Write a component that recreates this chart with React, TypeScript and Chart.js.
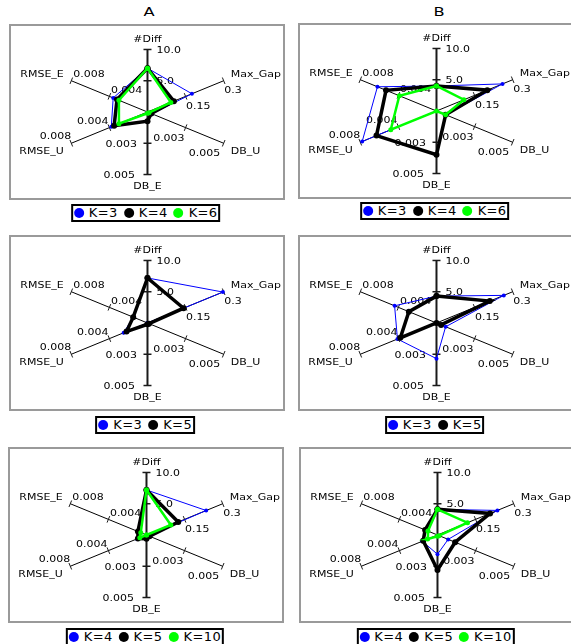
import React, { useEffect, useRef } from 'react';
import { Chart, registerables } from 'chart.js';
Chart.register(...registerables);

// ---------- data ----------
const axisNames = ['#Diff', 'Max_Gap', 'DB_U', 'DB_E', 'RMSE_U', 'RMSE_E'];
const axisMax = [10, 0.3, 0.005, 0.005, 0.008, 0.008];
const axisEndTicks = ['10.0', '0.3', '0.005', '0.005', '0.008', '0.008'];
const axisMidTicks = ['5.0', '0.15', '0.003', '0.003', '0.004', '0.004'];

// Panel A, top row
const a1K3 = [7.0, 0.175, 0.0003, 0.0007, 0.0038, 0.0036];
const a1K4 = [7.0, 0.104, 0.00025, 0.00074, 0.0035, 0.0032];
const a1K6 = [7.0, 0.092, 0.0001, 0.0001, 0.003, 0.003];
// Panel B, top row
const b1K3 = [4.0, 0.26, 0.0006, 0.0, 0.0078, 0.0062];
const b1K4 = [4.0, 0.2, 0.0006, 0.0035, 0.0063, 0.0053];
const b1K6 = [4.0, 0.108, 0.0006, 0.0, 0.0048, 0.0039];
// Panel A, middle row
const a2K3 = [7.2, 0.297, 0.0, 0.0, 0.0025, 0.0015];
const a2K5 = [7.2, 0.142, 0.0001, 0.0001, 0.0022, 0.0015];
// Panel B, middle row
const b2K3 = [4.3, 0.265, 0.0006, 0.00285, 0.0041, 0.0044];
const b2K5 = [4.3, 0.21, 0.0003, 0.0, 0.0038, 0.0029];
// Panel A, bottom row
const a3K4 = [7.2, 0.235, 0.0001, 0.0001, 0.001, 0.0009];
const a3K5 = [7.2, 0.125, 0.0002, 0.0003, 0.0009, 0.0009];
const a3K10 = [7.2, 0.096, 0.0, 0.0, 0.0007, 0.0006];
// Panel B, bottom row
const b3K4 = [4.1, 0.236, 0.0007, 0.00154, 0.0016, 0.0013];
const b3K5 = [4.1, 0.207, 0.00116, 0.0028, 0.0015, 0.0013];
const b3K10 = [4.1, 0.118, 0.0001, 0.0001, 0.00104, 0.001];

const colTitles = ['A', 'B'];

// ---------- styles ----------
const STY: Record<string, { color: string; width: number; radius: number }> = {
  blue: { color: '#0000ff', width: 1, radius: 2 },
  black: { color: '#000000', width: 3.5, radius: 3 },
  green: { color: '#00ff00', width: 2.5, radius: 2.5 },
};

type Series = { label: string; values: number[]; sty: string };
type PanelCfg = { cx: number; cy: number; legendTop: number; series: Series[] };

const panels: PanelCfg[] = [
  { cx: 147.7, cy: 112, legendTop: 204, series: [
    { label: 'K=3', values: a1K3, sty: 'blue' },
    { label: 'K=4', values: a1K4, sty: 'black' },
    { label: 'K=6', values: a1K6, sty: 'green' },
  ] },
  { cx: 436.7, cy: 110.7, legendTop: 202, series: [
    { label: 'K=3', values: b1K3, sty: 'blue' },
    { label: 'K=4', values: b1K4, sty: 'black' },
    { label: 'K=6', values: b1K6, sty: 'green' },
  ] },
  { cx: 147.2, cy: 323.3, legendTop: 416, series: [
    { label: 'K=3', values: a2K3, sty: 'blue' },
    { label: 'K=5', values: a2K5, sty: 'black' },
  ] },
  { cx: 436.7, cy: 323, legendTop: 416, series: [
    { label: 'K=3', values: b2K3, sty: 'blue' },
    { label: 'K=5', values: b2K5, sty: 'black' },
  ] },
  { cx: 146.9, cy: 535, legendTop: 628, series: [
    { label: 'K=4', values: a3K4, sty: 'blue' },
    { label: 'K=5', values: a3K5, sty: 'black' },
    { label: 'K=10', values: a3K10, sty: 'green' },
  ] },
  { cx: 437.5, cy: 534.8, legendTop: 628, series: [
    { label: 'K=4', values: b3K4, sty: 'blue' },
    { label: 'K=5', values: b3K5, sty: 'black' },
    { label: 'K=10', values: b3K10, sty: 'green' },
  ] },
];

// ---------- geometry ----------
const BOX_W = 276;
const BOX_H = 176;
const CX_OFF = 138.5;
const CY_OFF = 88;
const RX = 90.6;
const RY = 65.5;
const FONT = '"DejaVu Sans", Verdana, sans-serif';
const TEXT_SX = 1.22;

const axisAngle = (i: number) => ((90 - i * 60) * Math.PI) / 180;
const polar = (i: number, r: number) => ({ x: r * Math.cos(axisAngle(i)), y: r * Math.sin(axisAngle(i)) });

// label placements relative to the end / mid tick pixel: [dx, dy, align]
const labelLayout: any[] = [
  { name: [0, -10, 'center'], end: [9, 1, 'left'], mid: [9, 1, 'left'] },
  { name: [7, -6, 'left'], end: [0.5, 10, 'left'], mid: [0.5, 10.5, 'left'] },
  { name: [7, 8.5, 'left'], end: [-3.5, 10, 'right'], mid: [-1, 11, 'right'] },
  { name: [0, 12, 'center'], end: [-12.5, 1.5, 'right'], mid: [-10.5, 1, 'right'] },
  { name: [-7.5, 8.5, 'right'], end: [0, -7, 'right'], mid: [-1, -6, 'right'] },
  { name: [-7.5, -6.5, 'right'], end: [2, -6.5, 'left'], mid: [1.5, -6, 'left'] },
];

function drawText(ctx: CanvasRenderingContext2D, s: string, x: number, y: number, align: CanvasTextAlign) {
  ctx.save();
  ctx.translate(x, y);
  ctx.scale(TEXT_SX, 1);
  ctx.textAlign = align;
  ctx.textBaseline = 'middle';
  ctx.fillText(s, 0, 0);
  ctx.restore();
}

const axesPlugin = {
  id: 'radarAxes',
  beforeDatasetsDraw(chart: any) {
    const { ctx, scales } = chart;
    const sx = scales.x;
    const sy = scales.y;
    const px = (p: { x: number; y: number }) => ({ x: sx.getPixelForValue(p.x), y: sy.getPixelForValue(p.y) });
    const ends = axisNames.map((_, i) => px(polar(i, 1)));
    const mids = axisNames.map((_, i) => px(polar(i, 0.5)));
    ctx.save();
    ctx.strokeStyle = '#000';
    // diagonal axes
    ctx.lineWidth = 1;
    [[1, 4], [2, 5]].forEach(([a, b]) => {
      ctx.beginPath();
      ctx.moveTo(ends[a].x, ends[a].y);
      ctx.lineTo(ends[b].x, ends[b].y);
      ctx.stroke();
    });
    // vertical axis
    ctx.lineWidth = 2;
    ctx.strokeStyle = '#1a1a1a';
    ctx.beginPath();
    ctx.moveTo(ends[0].x, ends[0].y);
    ctx.lineTo(ends[3].x, ends[3].y);
    ctx.stroke();
    // ticks
    axisNames.forEach((_, i) => {
      const vertical = i === 0 || i === 3;
      const c = px({ x: 0, y: 0 });
      const dx = ends[i].x - c.x;
      const dy = ends[i].y - c.y;
      const len = Math.hypot(dx, dy);
      const nx = -dy / len;
      const ny = dx / len;
      const h = vertical ? 4 : 3.5;
      ctx.lineWidth = vertical ? 1.5 : 1;
      [ends[i], mids[i]].forEach((p) => {
        ctx.beginPath();
        ctx.moveTo(p.x - nx * h, p.y - ny * h);
        ctx.lineTo(p.x + nx * h, p.y + ny * h);
        ctx.stroke();
      });
    });
    // labels
    ctx.fillStyle = '#000';
    ctx.font = `9px ${FONT}`;
    axisNames.forEach((name, i) => {
      const L = labelLayout[i];
      drawText(ctx, name, ends[i].x + L.name[0], ends[i].y + L.name[1], L.name[2]);
      drawText(ctx, axisEndTicks[i], ends[i].x + L.end[0], ends[i].y + L.end[1], L.end[2]);
      drawText(ctx, axisMidTicks[i], mids[i].x + L.mid[0], mids[i].y + L.mid[1], L.mid[2]);
    });
    ctx.restore();
  },
  afterDraw(chart: any) {
    const { ctx } = chart;
    ctx.save();
    ctx.strokeStyle = '#9a9a9a';
    ctx.lineWidth = 2;
    ctx.strokeRect(1, 1, chart.width - 2, chart.height - 2);
    ctx.restore();
  },
};

function Panel({ cfg }: { cfg: PanelCfg }) {
  const ref = useRef<HTMLCanvasElement>(null);
  useEffect(() => {
    if (!ref.current) return;
    const n = cfg.series.length;
    const datasets = cfg.series.map((s, k) => {
      const st = STY[s.sty];
      const pts = s.values.map((v, i) => polar(i, v / axisMax[i]));
      pts.push(pts[0]);
      return {
        label: s.label,
        data: pts,
        showLine: true,
        fill: false,
        tension: 0,
        borderColor: st.color,
        borderWidth: st.width,
        pointRadius: st.radius,
        pointBackgroundColor: st.color,
        pointBorderColor: st.color,
        pointBorderWidth: 0,
        borderJoinStyle: 'miter' as const,
        order: n - k,
      };
    });
    const chart = new Chart(ref.current, {
      type: 'scatter',
      data: { datasets },
      options: {
        animation: false,
        responsive: false,
        devicePixelRatio: 1,
        layout: { padding: 0 },
        plugins: { legend: { display: false }, tooltip: { enabled: false } },
        scales: {
          x: { type: 'linear', display: false, min: -CX_OFF / RX, max: (BOX_W - CX_OFF) / RX },
          y: { type: 'linear', display: false, min: -(BOX_H - CY_OFF) / RY, max: CY_OFF / RY },
        },
      },
      plugins: [axesPlugin],
    });
    return () => chart.destroy();
  }, [cfg]);

  return (
    <>
      <canvas
        ref={ref}
        width={BOX_W}
        height={BOX_H}
        style={{ position: 'absolute', left: cfg.cx - CX_OFF, top: cfg.cy - CY_OFF, width: BOX_W, height: BOX_H }}
      />
      <div
        style={{
          position: 'absolute',
          left: cfg.cx - 2,
          top: cfg.legendTop,
          transform: 'translateX(-50%)',
          border: '2px solid #000',
          display: 'flex',
          alignItems: 'center',
          height: 14,
          padding: '0 1px',
          fontFamily: FONT,
          fontSize: 13,
          lineHeight: '14px',
          whiteSpace: 'nowrap',
          background: '#fff',
        }}
      >
        {cfg.series.map((s, k) => (
          <span key={k} style={{ display: 'flex', alignItems: 'center', marginRight: k === cfg.series.length - 1 ? 0 : 6 }}>
            <span style={{ width: 10, height: 10, borderRadius: '50%', background: STY[s.sty].color, marginRight: 5 }} />
            <span style={{ letterSpacing: 0.4 }}>{s.label}</span>
          </span>
        ))}
      </div>
    </>
  );
}

export default function App() {
  return (
    <div style={{ position: 'fixed', left: 0, top: 0, width: 571, height: 644, overflow: 'hidden', background: '#fff' }}>
      {colTitles.map((t, i) => (
        <div
          key={t}
          style={{
            position: 'absolute',
            left: i === 0 ? 148.5 : 438.5,
            top: 12,
            transform: 'translate(-50%, -50%) scaleX(1.25)',
            fontFamily: FONT,
            fontSize: 13,
            lineHeight: '14px',
          }}
        >
          {t}
        </div>
      ))}
      {panels.map((p, i) => (
        <Panel key={i} cfg={p} />
      ))}
    </div>
  );
}
